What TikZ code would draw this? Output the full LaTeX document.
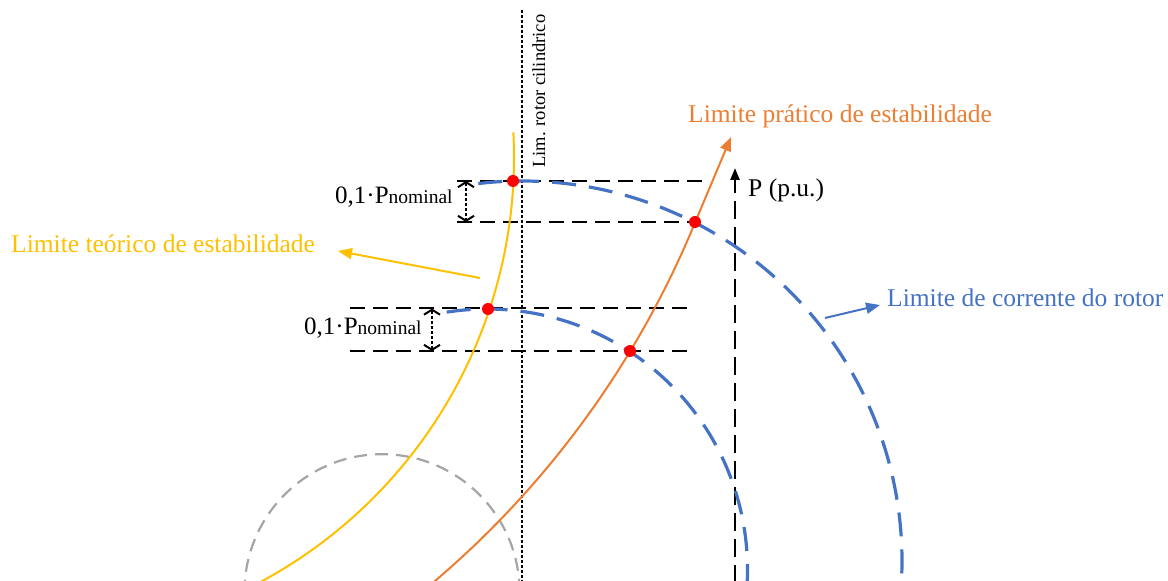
\documentclass[tikz,border=0pt]{standalone}
\usepackage{fontspec}
\setmainfont{Liberation Serif}
\usetikzlibrary{arrows.meta}
\definecolor{cyel}{HTML}{FFC000}
\definecolor{cora}{HTML}{ED7D31}
\definecolor{cblu}{HTML}{4472C4}
\definecolor{cgry}{HTML}{A5A5A5}
\newcommand{\nomtxt}{{\fontsize{25}{30}\selectfont 0,1·P}{\fontsize{19.5}{24}\selectfont nominal}}
\begin{document}
\begin{tikzpicture}[x=1pt,y=1pt,
  lbl/.style={inner sep=0pt, font=\fontsize{25.5}{30}\selectfont},
  reddot/.style={circle, fill=red, inner sep=0pt, minimum size=12pt},
  blkdash/.style={black, line width=2pt, dash pattern=on 15pt off 8pt},
  bludash/.style={cblu, line width=3.2pt, dash pattern=on 24pt off 13pt},
  dotline/.style={black, line width=2.3pt, dash pattern=on 3pt off 2pt},
  filltip/.style={-{Triangle[length=14pt,width=11pt]}},
  barb/.style={{Straight Barb[length=5pt,width=16pt]}-{Straight Barb[length=5pt,width=16pt]}},
]
\useasboundingbox (0,0) rectangle (1168,581);
\clip (0,0) rectangle (1168,581);

% gray dashed circle
\draw[cgry, line width=2.2pt, dash pattern=on 13pt off 8pt] (382,-10.7) circle[radius=137.5];

% dotted vertical line (cylindrical rotor limit)
\coordinate (vt) at (522,571);
\coordinate (vb) at (522,-2);
\draw[dotline] (vt) -- (vb);

% P axis
\coordinate (ab) at (735,-2);
\coordinate (at) at (735,413);
\draw[black, line width=2.5pt, dash pattern=on 18pt off 8pt, -{Triangle[length=12pt,width=9pt]}] (ab) -- (at);

% horizontal dashed lines
\coordinate (h1a) at (457,400); \coordinate (h1b) at (703,400);
\coordinate (h2a) at (457,359); \coordinate (h2b) at (700,359);
\coordinate (h3a) at (350,272.5); \coordinate (h3b) at (693,272.5);
\coordinate (h4a) at (350,230); \coordinate (h4b) at (693,230);
\draw[blkdash] (h1a) -- (h1b);
\draw[blkdash] (h2a) -- (h2b);
\draw[blkdash] (h3a) -- (h3b);
\draw[blkdash] (h4a) -- (h4b);

% blue rotor current limit arcs
\draw[bludash] (522,20) ++(96.6:380) arc[start angle=96.6, end angle=-5, radius=380];
\draw[bludash] (487,11.5) ++(98.9:260.5) arc[start angle=98.9, end angle=-5, radius=260.5];

% yellow theoretical limit
\draw[cyel, line width=2pt] (32,423.4) ++(3:482) arc[start angle=3, end angle=-62, radius=482];

% orange practical limit
\coordinate (otip) at (731,444);
\draw[cora, line width=2pt, filltip] (-176,717) ++(-50:942) arc[start angle=-50, end angle=-22.34, radius=942] -- (otip);

% double arrows 0,1 Pnominal
\coordinate (d1t) at (466,400); \coordinate (d1b) at (466,359);
\coordinate (d2t) at (432,272.5); \coordinate (d2b) at (432,230);
\draw[dotline, line width=2pt, barb] (d1t) -- (d1b);
\draw[dotline, line width=2pt, barb] (d2t) -- (d2b);

% labels
\node[lbl, cyel, anchor=base west] (ty) at (11,328) {Limite teórico de estabilidade};
\node[lbl, cora, anchor=base west] (to) at (688,458) {Limite prático de estabilidade};
\node[lbl, cblu, anchor=base west] (tb) at (887,274) {Limite de corrente do rotor};
\node[lbl, anchor=base west] (tp) at (748,384) {P (p.u.)};
\node[inner sep=0pt, anchor=base west] (n1) at (335,377) {\nomtxt};
\node[inner sep=0pt, anchor=base west] (n2) at (304,246) {\nomtxt};
\node[inner sep=0pt, font=\fontsize{18.5}{22}\selectfont, rotate=90, anchor=base west] (lr) at (545,413) {Lim. rotor cilindrico};

% label arrows
\coordinate (ys) at (480,303); \coordinate (ye) at (338,330);
\draw[cyel, line width=2pt, filltip] (ys) -- (ye);
\coordinate (bs) at (825,263); \coordinate (be) at (880,276);
\draw[cblu, line width=2pt, filltip] (bs) -- (be);

% intersection dots
\node[reddot] (pa) at (513,400) {};
\node[reddot] (pb) at (695,359) {};
\node[reddot] (pc) at (488,272) {};
\node[reddot] (pd) at (630,230) {};
\end{tikzpicture}
\end{document}
